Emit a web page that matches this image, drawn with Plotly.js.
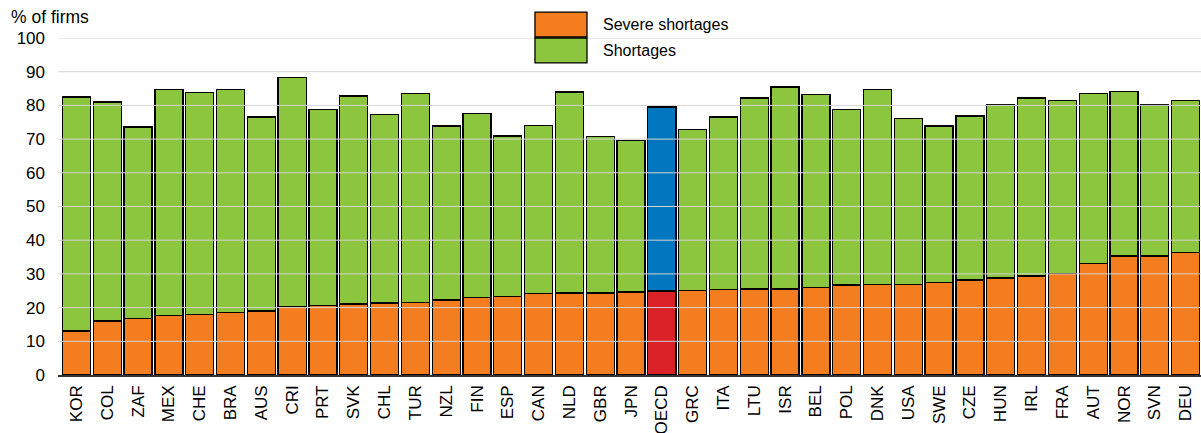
<!DOCTYPE html>
<html>
<head>
<meta charset="utf-8">
<script src="https://cdn.plot.ly/plotly-3.0.1.min.js"></script>
<style>html,body{margin:0;padding:0;background:#fff;}#chart{width:1201px;height:433px;}</style>
</head>
<body>
<div id="chart"></div>
<script>
const categories = ["KOR","COL","ZAF","MEX","CHE","BRA","AUS","CRI","PRT","SVK","CHL","TUR","NZL","FIN","ESP","CAN","NLD","GBR","JPN","OECD","GRC","ITA","LTU","ISR","BEL","POL","DNK","USA","SWE","CZE","HUN","IRL","FRA","AUT","NOR","SVN","DEU"];
const severeShortages = [13.1,16.0,16.8,17.6,18.0,18.6,19.0,20.4,20.6,21.1,21.4,21.5,22.3,23.1,23.2,24.2,24.3,24.3,24.6,24.9,25.0,25.4,25.5,25.5,25.9,26.7,26.8,26.9,27.5,28.2,28.8,29.4,30.2,33.1,35.3,35.3,36.3];
const shortages = [69.4,65.0,56.8,67.2,65.9,66.2,57.6,67.9,58.2,61.7,56.0,62.0,51.6,54.5,47.7,49.8,59.7,46.4,45.0,54.6,47.9,51.2,56.7,60.0,57.4,52.1,58.0,49.2,46.4,48.7,51.5,52.8,51.3,50.4,48.9,44.8,45.1];
const yTicks = [0,10,20,30,40,50,60,70,80,90,100];
const seriesNames = ["Severe shortages","Shortages"];
const highlight = "OECD";

const ORANGE = "#F47D20", GREEN = "#8CC63F", RED = "#DA2128", BLUE = "#0077BE";
const sevColors = categories.map(c => c === highlight ? RED : ORANGE);
const shColors = categories.map(c => c === highlight ? BLUE : GREEN);
const FONT = "'Liberation Sans', Arial, sans-serif";

const traces = [
  {type:"bar", name:seriesNames[0], x:categories, y:severeShortages,
   marker:{color:sevColors, line:{color:"#000", width:1.3}}, hoverinfo:"x+y"},
  {type:"bar", name:seriesNames[1], x:categories, y:shortages,
   marker:{color:shColors, line:{color:"#000", width:1.3}}, hoverinfo:"x+y"}
];

const shapes = yTicks.filter(v => v > 0).map(v => ({
  type:"line", xref:"paper", yref:"y", x0:0, x1:1, y0:v, y1:v,
  line:{color:"#d4d4d4", width:1}, layer:"above"
}));
// custom legend boxes
const legColors = [ORANGE, GREEN];
const legY = [[1.003,1.077],[0.926,1.0]];
legColors.forEach((c,i) => shapes.push({
  type:"rect", xref:"paper", yref:"paper", x0:0.4173, x1:0.4628,
  y0:legY[i][0], y1:legY[i][1], fillcolor:c, line:{color:"#000", width:1.3}, layer:"above"
}));

const annotations = [
  {text:"% of firms", xref:"paper", yref:"paper", x:-0.043, y:1.062, xanchor:"left", yanchor:"middle",
   showarrow:false, font:{family:FONT, size:17.5, color:"#000"}},
  {text:seriesNames[0], xref:"paper", yref:"paper", x:0.475, y:1.040, xanchor:"left", yanchor:"middle",
   showarrow:false, font:{family:FONT, size:16, color:"#000"}},
  {text:seriesNames[1], xref:"paper", yref:"paper", x:0.475, y:0.963, xanchor:"left", yanchor:"middle",
   showarrow:false, font:{family:FONT, size:16, color:"#000"}}
];

const layout = {
  width:1201, height:433,
  margin:{l:58, r:0, t:38, b:58, pad:0},
  paper_bgcolor:"#fff", plot_bgcolor:"#fff",
  barmode:"stack", bargap:0.09,
  showlegend:false,
  font:{family:FONT, color:"#000"},
  xaxis:{type:"category", range:[-0.6,36.5], tickangle:-90, showgrid:false,
         showline:true, linecolor:"#333", linewidth:1.5, ticks:"", ticklabelstandoff:2,
         tickfont:{family:FONT, size:17, color:"#000"}, fixedrange:true},
  yaxis:{range:[0,100], tickvals:yTicks, ticktext:yTicks.map(String), showgrid:false,
         zeroline:false, showline:false, ticks:"", ticklabelstandoff:12,
         tickfont:{family:FONT, size:17, color:"#000"}, fixedrange:true},
  shapes:shapes, annotations:annotations
};

Plotly.newPlot("chart", traces, layout, {displayModeBar:false, staticPlot:true});
</script>
</body>
</html>
